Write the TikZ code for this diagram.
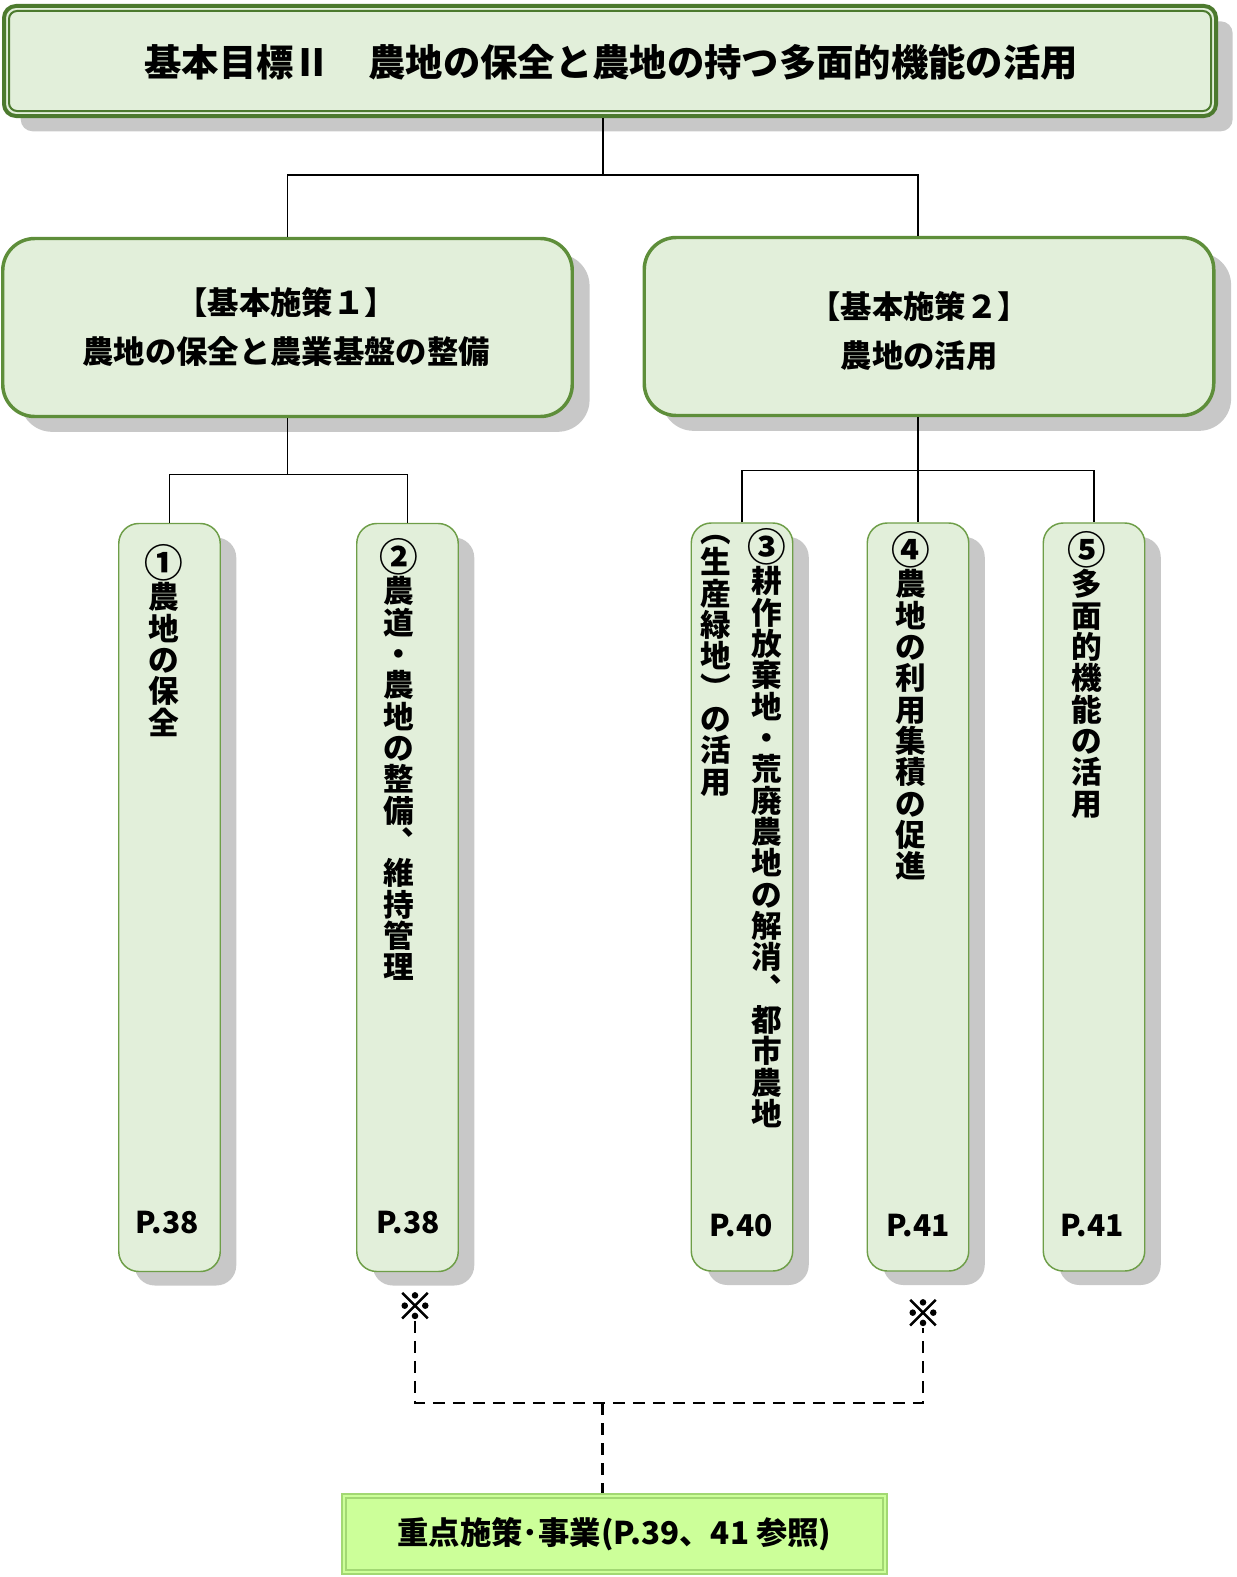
\documentclass[tikz,border=0pt]{standalone}
\usepackage{fontspec}
\setmainfont{Noto Sans CJK JP}
\newfontfamily\komefont[FakeBold=3]{Noto Sans CJK JP}
\usetikzlibrary{shadows,calc}
\definecolor{boxfill}{HTML}{E2EFDA}
\definecolor{darkgr}{HTML}{4C7A2E}
\definecolor{midgr}{HTML}{5E8E3A}
\definecolor{lightgr}{HTML}{6E9E48}
\definecolor{limefill}{HTML}{CCFF99}
\definecolor{limeline}{HTML}{A2D873}
\definecolor{shadowgr}{HTML}{C8C8C8}
\newcommand\circnum[1]{\vphantom{農}\smash{\fontsize{29pt}{23.5pt}\selectfont #1}}
\begin{document}
\begin{tikzpicture}[x=0.75pt,y=-0.75pt,
  goalbox/.style={draw=darkgr, line width=3pt, fill=boxfill, rounded corners=9pt,
    minimum width={1212*0.75pt}, minimum height={110*0.75pt}, inner sep=0pt,
    drop shadow={shadow xshift=12.5pt, shadow yshift=-11.5pt, fill=shadowgr, opacity=1}},
  polbox/.style={draw=midgr, line width=2.6pt, fill=boxfill, rounded corners=24pt,
    minimum width={569.5*0.75pt}, minimum height={178*0.75pt}, inner sep=0pt,
    drop shadow={shadow xshift=13pt, shadow yshift=-11.5pt, fill=shadowgr, opacity=1}},
  poltxt/.style={align=center, inner sep=0pt, font=\fontsize{23.5pt}{37pt}\selectfont\bfseries},
  itembox/.style={draw=lightgr, line width=1.1pt, fill=boxfill, rounded corners=15pt,
    minimum width={101.5*0.75pt}, minimum height={748*0.75pt}, inner sep=0pt,
    drop shadow={shadow xshift=12pt, shadow yshift=-10.5pt, fill=shadowgr, opacity=1}},
  vcol/.style={anchor=north, align=center, inner sep=0pt,
    font=\fontsize{23pt}{23.5pt}\selectfont\bfseries},
  pagetxt/.style={font=\fontsize{22.5pt}{24pt}\selectfont\bfseries, inner sep=0pt},
  kome/.style={font=\fontsize{27pt}{28pt}\selectfont\komefont, inner sep=1pt},
  conn/.style={draw=black, line width=0.8pt},
  dashline/.style={draw=black, line width=1.9pt, dash pattern=on 9pt off 6pt},
  botbox/.style={draw=limeline, line width=1.5pt, fill=limefill,
    minimum width={545*0.75pt}, minimum height={80*0.75pt}, inner sep=0pt,
    font=\fontsize{23.5pt}{26pt}\selectfont\bfseries}
]
\useasboundingbox (0,0) rectangle (1236,1577);

% goal box
\node[goalbox] (goal) at (610,61) {};
\draw[draw=darkgr, line width=1.5pt, rounded corners=6pt]
  ($(goal.north west)+(7,7)$) rectangle ($(goal.south east)+(-7,-7)$);
\node[font=\fontsize{28pt}{30pt}\selectfont\bfseries, inner sep=0pt] (goaltxt) at (611,62)
  {基本目標Ⅱ　農地の保全と農地の持つ多面的機能の活用};

% policy boxes
\node[polbox] (p1) at (287.5,327.5) {};
\node[poltxt] (p1t) at (286,327) {【基本施策１】\\農地の保全と農業基盤の整備};
\node[polbox] (p2) at (929,326.5) {};
\node[poltxt] (p2t) at (919,331) {【基本施策２】\\農地の活用};

% item boxes
\node[itembox] (b1) at (169.5,897.5) {};
\node[itembox] (b2) at (407.5,897.5) {};
\node[itembox] (b3) at (742,897) {};
\node[itembox] (b4) at (918,897) {};
\node[itembox] (b5) at (1094,897) {};

% connectors
\coordinate (j0) at ($(goal.south)+(-7,57)$);
\draw[conn] (goal.south -| j0) -- (j0);
\draw[conn] (p1.north) |- (j0) -| (b4.north |- p2.north);
\draw[conn] (p1.south) -- ++(0,56) -| (b1.north);
\draw[conn] (p1.south) ++(0,56) -| (b2.north);
\draw[conn] (b4.north |- p2.south) -- (b4.north);
\draw[conn] (b3.north) -- ++(0,-52) -| (b5.north);

% vertical texts
\node[vcol] (t1) at (164,551) {\circnum{①}\\農\\地\\の\\保\\全};
\node[vcol] (t2) at (399,545) {\circnum{②}\\農\\道\\・\\農\\地\\の\\整\\備\\︑\\維\\持\\管\\理};
\node[vcol] (t3a) at (767,535) {\circnum{③}\\耕\\作\\放\\棄\\地\\・\\荒\\廃\\農\\地\\の\\解\\消\\︑\\都\\市\\農\\地};
\node[vcol] (t3b) at (716,535) {︵\\生\\産\\緑\\地\\︶\\の\\活\\用};
\node[vcol] (t4) at (911,538) {\circnum{④}\\農\\地\\の\\利\\用\\集\\積\\の\\促\\進};
\node[vcol] (t5) at (1087,538) {\circnum{⑤}\\多\\面\\的\\機\\能\\の\\活\\用};

% page numbers
\node[pagetxt] (g1) at (167,1223) {P.38};
\node[pagetxt] (g2) at (408,1223) {P.38};
\node[pagetxt] (g3) at (741,1226) {P.40};
\node[pagetxt] (g4) at (918,1226) {P.41};
\node[pagetxt] (g5) at (1092,1226) {P.41};

% bottom box
\node[botbox] (bot) at (614.5,1534) {重点施策･事業(P.39、41 参照)};
\draw[draw=limeline, line width=1.5pt]
  ($(bot.north west)+(5,5)$) rectangle ($(bot.south east)+(-5,-5)$);

% reference marks and dashed connectors
\node[kome] (m1) at (415,1306) {※};
\node[kome] (m2) at (923,1313) {※};
\coordinate (j1) at ($(bot.north)+(-12,-90)$);
\draw[dashline] (m1.south) -- (m1.south |- j1) -- (m2.south |- j1) -- (m2.south);
\draw[dashline] (j1) -- (j1 |- bot.north);
\end{tikzpicture}
\end{document}
